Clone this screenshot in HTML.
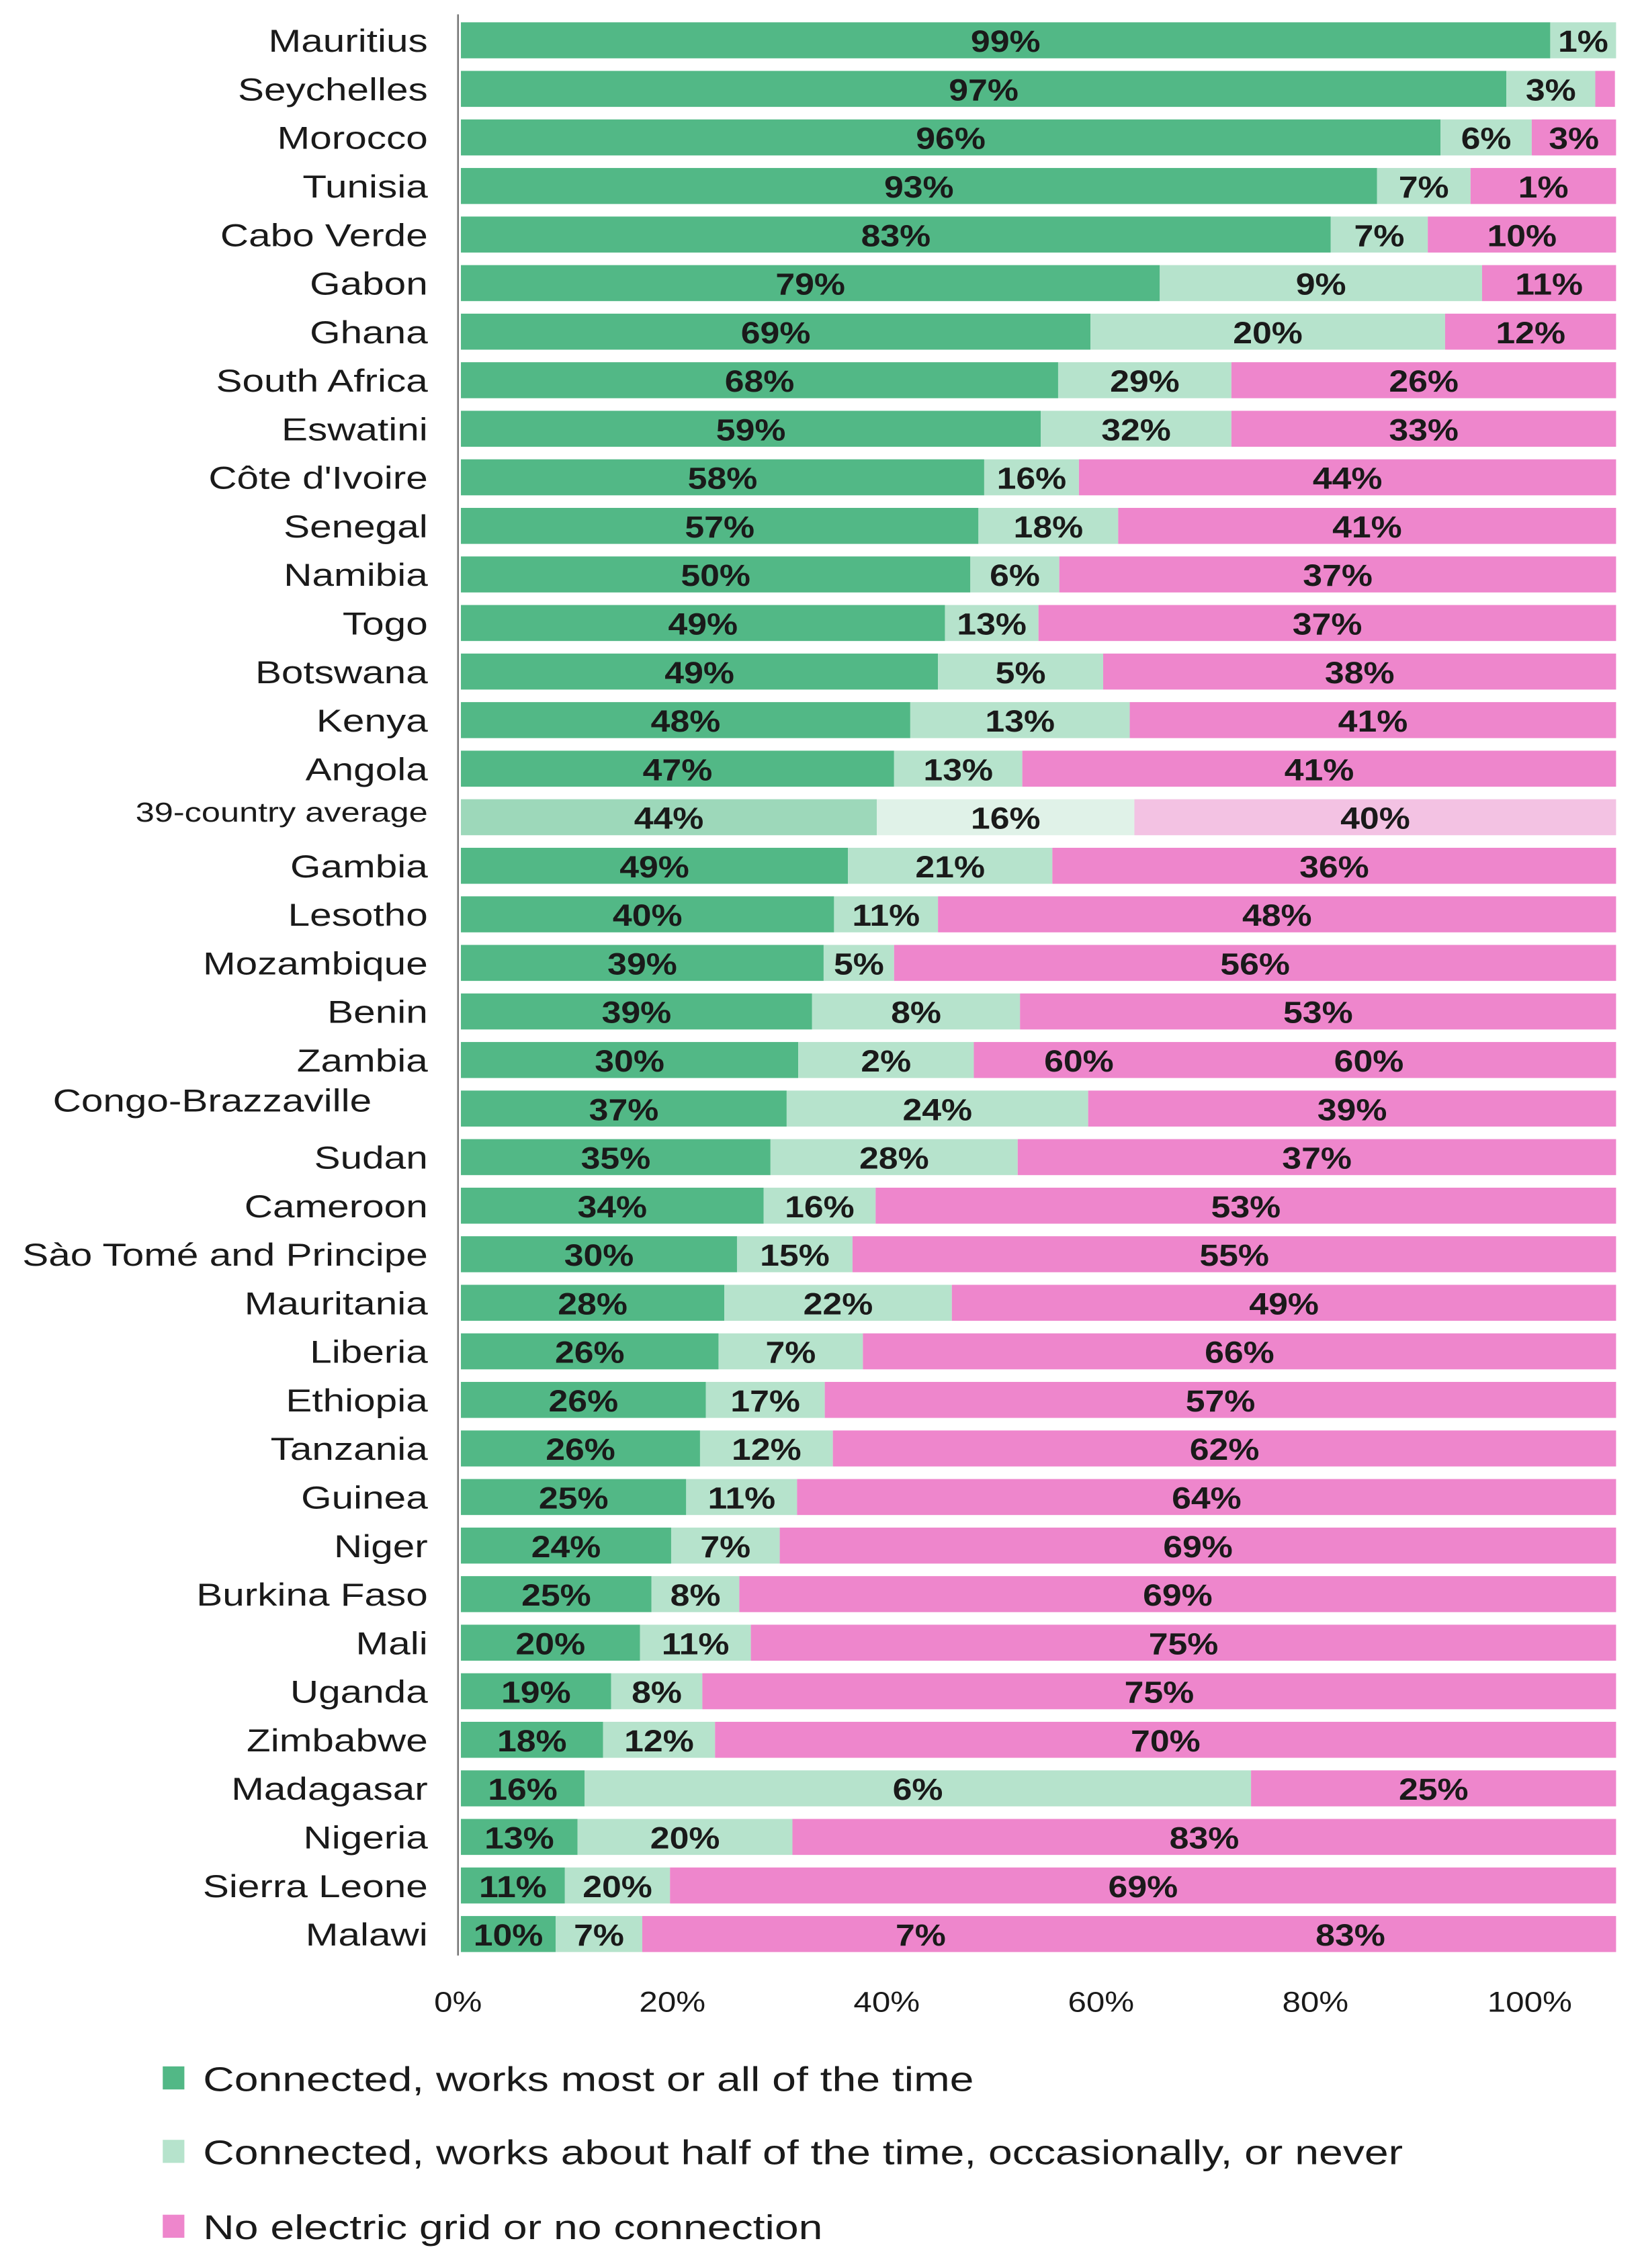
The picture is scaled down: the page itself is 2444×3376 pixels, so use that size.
<!DOCTYPE html>
<html><head><meta charset="utf-8"><style>
html,body{margin:0;padding:0;background:#fff;}
svg{display:block;}
text{font-family:"Liberation Sans",sans-serif;}
</style></head><body>
<svg id="chart" width="2444" height="3376" viewBox="0 0 1140 1575" preserveAspectRatio="none" xmlns="http://www.w3.org/2000/svg"></svg>
<script>
const countries=["Mauritius","Seychelles","Morocco","Tunisia","Cabo Verde","Gabon","Ghana","South Africa","Eswatini","Côte d'Ivoire","Senegal","Namibia","Togo","Botswana","Kenya","Angola","39-country average","Gambia","Lesotho","Mozambique","Benin","Zambia","Congo-Brazzaville","Sudan","Cameroon","Sào Tomé and Principe","Mauritania","Liberia","Ethiopia","Tanzania","Guinea","Niger","Burkina Faso","Mali","Uganda","Zimbabwe","Madagasar","Nigeria","Sierra Leone","Malawi"];
const worksValues=[94.3,90.5,84.8,79.3,75.3,60.5,54.5,51.7,50.2,45.3,44.8,44.1,41.9,41.3,38.9,37.5,36.0,33.5,32.3,31.4,30.4,29.2,28.2,26.8,26.2,23.9,22.8,22.3,21.2,20.7,19.5,18.2,16.5,15.5,13.0,12.3,10.7,10.1,9.0,8.2];
const partialValues=[5.7,7.7,7.9,8.1,8.4,27.9,30.7,15.0,16.5,8.2,12.1,7.7,8.1,14.3,19.0,11.1,22.3,17.7,9.0,6.1,18.0,15.2,26.1,21.4,9.7,10.0,19.7,12.5,10.3,11.5,9.6,9.4,7.6,9.6,7.9,9.7,57.7,18.6,9.1,7.5];
const noneValues=[0,1.7,7.3,12.6,16.3,11.6,14.8,33.3,33.3,46.5,43.1,48.2,50.0,44.4,42.1,51.4,41.7,48.8,58.7,62.5,51.6,55.6,45.7,51.8,64.1,66.1,57.5,65.2,68.5,67.8,70.9,72.4,75.9,74.9,79.1,78.0,31.6,71.3,81.9,84.3];
const worksLabels=["99%","97%","96%","93%","83%","79%","69%","68%","59%","58%","57%","50%","49%","49%","48%","47%","44%","49%","40%","39%","39%","30%","37%","35%","34%","30%","28%","26%","26%","26%","25%","24%","25%","20%","19%","18%","16%","13%","11%","10%"];
const partialLabels=["1%","3%","6%","7%","7%","9%","20%","29%","32%","16%","18%","6%","13%","5%","13%","13%","16%","21%","11%","5%","8%","2%","24%","28%","16%","15%","22%","7%","17%","12%","11%","7%","8%","11%","8%","12%","6%","20%","20%","7%"];
const noneLabels=["","","3%","1%","10%","11%","12%","26%","33%","44%","41%","37%","37%","38%","41%","41%","40%","36%","48%","56%","53%","","39%","37%","53%","55%","49%","66%","57%","62%","64%","69%","69%","75%","75%","70%","25%","83%","69%",""];
const extraRows=[21,21,39,39];
const extraPos=[53.5,78.6,39.8,77.0];
const extraLabels=["60%","60%","7%","83%"];
const tickValues=[0,20,40,60,80,100];
const tickLabels=["0%","20%","40%","60%","80%","100%"];
const legendLabels=["Connected, works most or all of the time","Connected, works about half of the time, occasionally, or never","No electric grid or no connection"];

const svg=document.getElementById('chart');
const NS='http://www.w3.org/2000/svg';
const X0=320,X1=1122,Y0=28,STEP=33.72,BH=25;
const xs=v=>X0+v*(X1-X0)/100;
const ys=i=>Y0+i*STEP;
const tx=v=>318+v*(1062-318)/100;
function mk(tag,attrs,txt){const e=document.createElementNS(NS,tag);for(const k in attrs)e.setAttribute(k,attrs[k]);if(txt!==undefined)e.textContent=txt;svg.appendChild(e);return e;}
function txt(x,y,s,anchor,size,weight,sx){return mk('text',{transform:`translate(${x},${y}) scale(${sx},1)`,'text-anchor':anchor,'font-size':size,'font-weight':weight,fill:'#1a1a1a'},s);}
const colors=["#52b886","#b6e3cc","#ee86cc"];
const avgColors=["#9dd8ba","#e0f2e8","#f3c2e3"];
const names=["works","partial","none"];
countries.forEach((c,i)=>{
  const y=ys(i);
  const isAvg=c.indexOf("average")>=0;
  const isCongo=c.startsWith("Congo");
  const lx=isCongo?258:297;
  const lab=txt(lx,(isCongo?y-6:isAvg?y-5:y)+8,c,'end',isAvg?19:22,'normal',1.24);
  
  
  const vals=[worksValues[i],partialValues[i],noneValues[i]];
  const labs=[worksLabels[i],partialLabels[i],noneLabels[i]];
  let acc=0;
  vals.forEach((v,k)=>{
    if(v>0){
      const r=mk('rect',{x:xs(acc),y:y-BH/2,width:xs(acc+v)-xs(acc),height:BH,fill:(isAvg?avgColors:colors)[k]});
      
      
      if(labs[k]){
        const t=txt(xs(acc+v/2),y+8,labs[k],'middle',21,'bold',1.15);
        
        
      }
    }
    acc+=v;
  });
});
extraRows.forEach((r,j)=>{
  const t=txt(xs(extraPos[j]),ys(r)+8,extraLabels[j],'middle',21,'bold',1.15);
  
  
});
const ax=mk('line',{x1:318,y1:10,x2:318,y2:1358,stroke:'#777','stroke-width':1.2});


tickValues.forEach((v,i)=>{
  const t=txt(tx(v),1397,tickLabels[i],'middle',20,'normal',1.15);
  
  
});
const legY=[1443,1494,1546];
legendLabels.forEach((l,i)=>{
  const r=mk('rect',{x:113,y:legY[i]-8,width:15,height:16,fill:colors[i]});
  
  
  const t=txt(141,legY[i]+9,l,'start',24,'normal',1.25);
  
  
});
</script>
</body></html>
